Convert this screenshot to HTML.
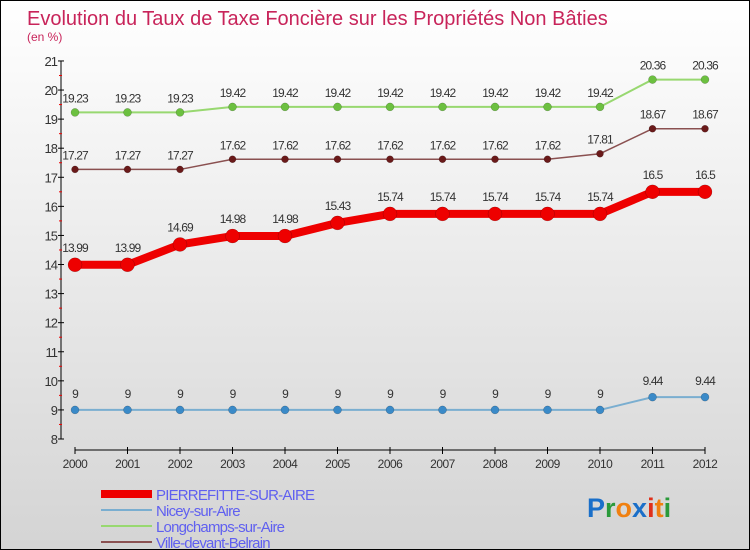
<!DOCTYPE html>
<html><head><meta charset="utf-8"><style>
html,body{margin:0;padding:0}
body{width:750px;height:550px;overflow:hidden;font-family:"Liberation Sans",sans-serif}
#wrap{position:relative;width:748px;height:548px;border:1px solid #000;background:linear-gradient(#ffffff,#d4d4d4)}
</style></head><body>
<div id="wrap">
<svg id="chart" width="748" height="548" style="position:absolute;left:0;top:0">
<text x="26" y="24" font-size="20" fill="#c8245a">Evolution du Taux de Taxe Foncière sur les Propriétés Non Bâties</text>
<text x="26" y="40" font-size="12" fill="#c8245a">(en %)</text>
<g id="axes"></g><g id="series"></g><g id="legend"></g>
<text x="586" y="516" font-size="27" font-weight="bold"><tspan fill="#1a6fc9">P</tspan><tspan fill="#2a9a3a">r</tspan><tspan fill="#f08010">o</tspan><tspan fill="#1a6fc9">x</tspan><tspan fill="#e0301a">i</tspan><tspan fill="#f08010">t</tspan><tspan fill="#2a9a3a">i</tspan></text>
</svg></div>
<script>
const years=[2000,2001,2002,2003,2004,2005,2006,2007,2008,2009,2010,2011,2012];
const yTicks=[8,9,10,11,12,13,14,15,16,17,18,19,20,21];
const pierrefitte=[13.99,13.99,14.69,14.98,14.98,15.43,15.74,15.74,15.74,15.74,15.74,16.5,16.5];
const nicey=[9,9,9,9,9,9,9,9,9,9,9,9.44,9.44];
const longchamps=[19.23,19.23,19.23,19.42,19.42,19.42,19.42,19.42,19.42,19.42,19.42,20.36,20.36];
const ville=[17.27,17.27,17.27,17.62,17.62,17.62,17.62,17.62,17.62,17.62,17.81,18.67,18.67];
const names=["PIERREFITTE-SUR-AIRE","Nicey-sur-Aire","Longchamps-sur-Aire","Ville-devant-Belrain"];
const NS="http://www.w3.org/2000/svg";
const x=i=>74+i*52.5;
const y=v=>438-(v-8)*29.08;
function mk(tag,attrs,parent){const e=document.createElementNS(NS,tag);for(const k in attrs)e.setAttribute(k,attrs[k]);parent.appendChild(e);return e;}
const axes=document.getElementById('axes');
let a=mk('line',{x1:60,y1:y(21),x2:60,y2:y(8),stroke:'#000','stroke-width':1},axes);


a=mk('line',{x1:x(0),y1:449,x2:x(12),y2:449,stroke:'#000','stroke-width':1},axes);


yTicks.forEach(t=>{
  mk('line',{x1:57,y1:y(t),x2:63,y2:y(t),stroke:'#000'},axes);
  if(t<21)mk('line',{x1:58,y1:y(t+0.5),x2:61,y2:y(t+0.5),stroke:'#e00'},axes);
  const tx=mk('text',{x:56,y:y(t)+5,'font-size':13,fill:'#333','text-anchor':'end','letter-spacing':'-1'},axes);
  tx.textContent=t;
  
  
});
years.forEach((yr,i)=>{
  mk('line',{x1:x(i),y1:446,x2:x(i),y2:453,stroke:'#000'},axes);
  const tx=mk('text',{x:x(i),y:467,'font-size':12,fill:'#333','text-anchor':'middle','letter-spacing':'-0.5'},axes);
  tx.textContent=yr;
  
  
});
const sg=document.getElementById('series');
function series(vals,color,w,r,ptColor,key,labOff){
  const g=mk('g',{},sg);
  
  
  const pl=mk('polyline',{points:vals.map((v,i)=>x(i)+','+y(v)).join(' '),fill:'none',stroke:color,'stroke-width':w,'stroke-linejoin':'round'},g);
  
  
  vals.forEach((v,i)=>{
    const c=mk('circle',{cx:x(i),cy:y(v),r:r,fill:ptColor,stroke:'rgba(0,0,0,0.3)','stroke-width':0.5},g);
    
    
    const t=mk('text',{x:x(i),y:y(v)-labOff,'font-size':12,fill:'#333','text-anchor':'middle','letter-spacing':'-0.9'},g);
    t.textContent=v;
    
    
  });
}
series(longchamps,'#98d870',2,4,'#6cc040','longchamps',10);
series(ville,'#8a5050',1.5,3.5,'#6a1a1a','ville',10);
series(nicey,'#7aaed0',2,4,'#3a8ac8','nicey',12);
series(pierrefitte,'#ee0000',8,7,'#ee0000','pierrefitte',13);
const lg=document.getElementById('legend');
const lc=['#ee0000','#7aaed0','#98d870','#8a5050'],lw=[8,2,2,2];
names.forEach((n,i)=>{
  const yy=493+i*16;
  const l=mk('line',{x1:100,y1:yy,x2:151,y2:yy,stroke:lc[i],'stroke-width':lw[i]},lg);
  
  
  const t=mk('text',{x:155,y:yy+6,'font-size':15,fill:'#6060f0','letter-spacing':'-0.8'},lg);
  t.textContent=n;
  
  
});
</script>
</body></html>
